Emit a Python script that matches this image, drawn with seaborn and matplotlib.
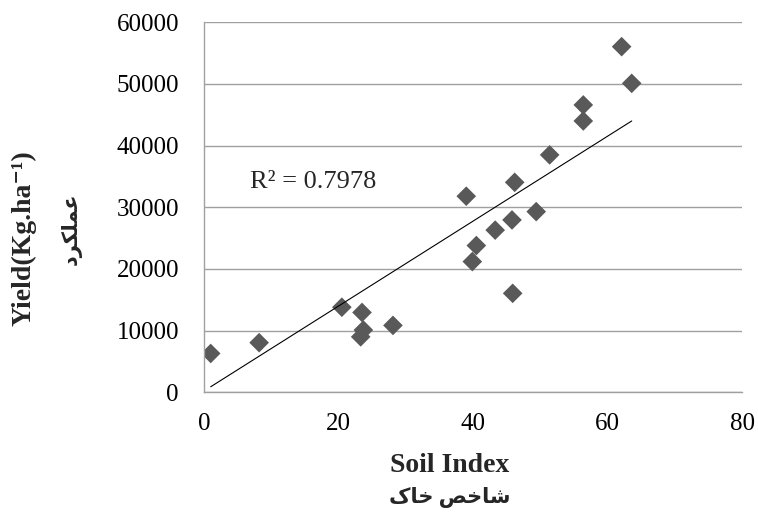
import matplotlib
matplotlib.use('Agg')
import matplotlib.pyplot as plt
import seaborn as sns
import pandas as pd
import numpy as np

# data
soil_index = [1.0, 8.2, 20.5, 23.5, 23.7, 23.3, 28.1, 39.0, 39.9, 40.5, 43.3,
              45.8, 46.2, 45.9, 49.4, 51.4, 56.4, 56.4, 62.1, 63.6]
yield_kg = [6300, 8050, 13800, 12950, 10100, 9000, 10850, 31800, 21200, 23800, 26300,
            27950, 34050, 16050, 29300, 38500, 46600, 44000, 56050, 50100]
# trendline as drawn in the reference (end points)
trend_x = [1.0, 63.6]
trend_y = [900, 44000]
x_ticks = [0, 20, 40, 60, 80]
y_ticks = [0, 10000, 20000, 30000, 40000, 50000, 60000]
r2_label = 'R² = 0.7978'
x_title = 'Soil Index'
x_title_fa = 'شاخص خاک'
y_title = 'Yield(Kg.ha⁻¹)'
y_title_fa = 'عملکرد'

# simple arabic shaping (matplotlib draws left to right, no joining)
forms = {
    'ع': ('\uFEC9', '\uFECA', '\uFECB', '\uFECC'),
    'م': ('\uFEE1', '\uFEE2', '\uFEE3', '\uFEE4'),
    'ل': ('\uFEDD', '\uFEDE', '\uFEDF', '\uFEE0'),
    'ک': ('\uFB8E', '\uFB8F', '\uFB90', '\uFB91'),
    'ر': ('\uFEAD', '\uFEAE', None, None),
    'د': ('\uFEA9', '\uFEAA', None, None),
    'ش': ('\uFEB5', '\uFEB6', '\uFEB7', '\uFEB8'),
    'ا': ('\uFE8D', '\uFE8E', None, None),
    'خ': ('\uFEA5', '\uFEA6', '\uFEA7', '\uFEA8'),
    'ص': ('\uFEB9', '\uFEBA', '\uFEBB', '\uFEBC'),
}


def shape(text):
    out = []
    for i, ch in enumerate(text):
        if ch not in forms:
            out.append(ch)
            continue
        prev = text[i - 1] if i > 0 else None
        nxt = text[i + 1] if i + 1 < len(text) else None
        iso, fin, ini, med = forms[ch]
        join_prev = prev in forms and forms[prev][2] is not None
        join_next = nxt in forms and ini is not None
        if join_prev and join_next:
            out.append(med)
        elif join_prev:
            out.append(fin)
        elif join_next:
            out.append(ini)
        else:
            out.append(iso)
    return ''.join(reversed(out))


df = pd.DataFrame({'soil': soil_index, 'yield': yield_kg})

sns.set_theme(style='white')
plt.rcParams['font.family'] = ['Liberation Serif', 'DejaVu Sans']

fig = plt.figure(figsize=(7.58, 5.16), dpi=100)
ax = fig.add_axes([0.2691, 0.2397, 0.7098, 0.7171])

sns.lineplot(x=trend_x, y=trend_y, color='black', lw=0.8, ax=ax, zorder=3)
sns.scatterplot(data=df, x='soil', y='yield', marker='D', s=100, color='#595959',
                edgecolor='none', ax=ax, zorder=2)

ax.set_xlim(0, 80)
ax.set_ylim(0, 60000)
ax.set_xticks(x_ticks)
ax.set_yticks(y_ticks)
ax.set_xticklabels([str(v) for v in x_ticks])
ax.set_yticklabels([str(v) for v in y_ticks])
ax.tick_params(axis='both', length=0, labelsize=18, colors='black')
ax.tick_params(axis='y', pad=18)
ax.tick_params(axis='x', pad=15)
ax.yaxis.grid(True, color='#a0a0a0', lw=1.0)
ax.xaxis.grid(False)
for side in ['top', 'right']:
    ax.spines[side].set_visible(False)
for side in ['left', 'bottom']:
    ax.spines[side].set_color('#a0a0a0')
    ax.spines[side].set_linewidth(1.0)
ax.set_xlabel('')
ax.set_ylabel('')

ax.text(6.8, 34100, r2_label, fontsize=19, ha='left', va='center')

# axis titles
fig.text(450 / 758, 1 - 466 / 516, x_title, fontsize=20, fontweight='bold',
         ha='center', va='center')
fig.text(450 / 758, 1 - 497 / 516, shape(x_title_fa), fontsize=15, fontweight='bold',
         ha='center', va='center')
fig.text(24 / 758, 1 - 238 / 516, y_title, fontsize=20, fontweight='bold', rotation=90,
         ha='center', va='center')
fig.text(71 / 758, 1 - 229 / 516, shape(y_title_fa), fontsize=15, fontweight='bold',
         rotation=90, ha='center', va='center')

fig.savefig('out.png', dpi=100)
